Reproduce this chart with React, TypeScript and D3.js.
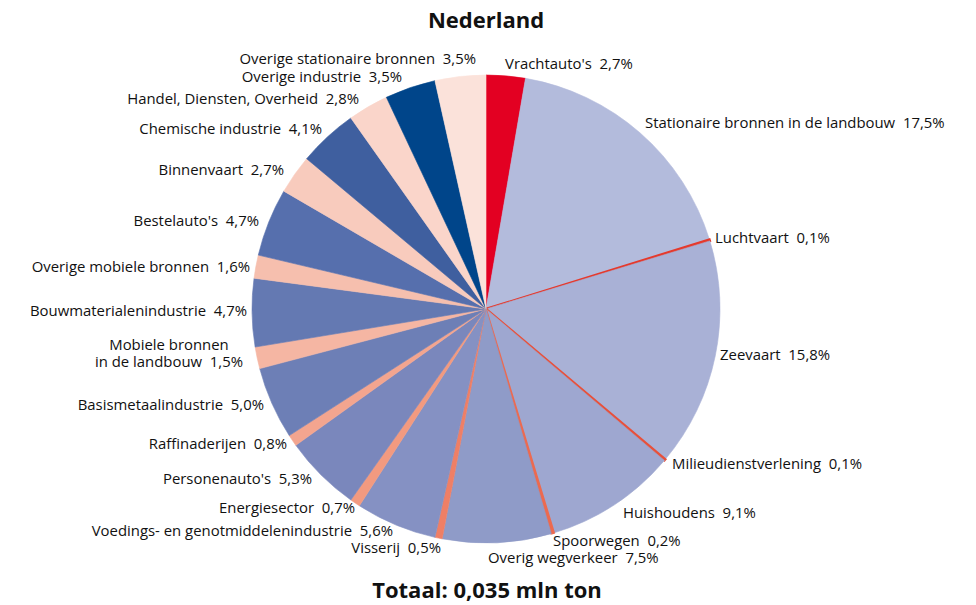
import React from "react";
import * as d3 from "d3";

const categories = [
  "Vrachtauto's",
  "Stationaire bronnen in de landbouw",
  "Luchtvaart",
  "Zeevaart",
  "Milieudienstverlening",
  "Huishoudens",
  "Spoorwegen",
  "Overig wegverkeer",
  "Visserij",
  "Voedings- en genotmiddelenindustrie",
  "Energiesector",
  "Personenauto's",
  "Raffinaderijen",
  "Basismetaalindustrie",
  "Mobiele bronnen\nin de landbouw",
  "Bouwmaterialenindustrie",
  "Overige mobiele bronnen",
  "Bestelauto's",
  "Binnenvaart",
  "Chemische industrie",
  "Handel, Diensten, Overheid",
  "Overige industrie",
  "Overige stationaire bronnen",
];

const values = [
  2.7, 17.5, 0.1, 15.8, 0.1, 9.1, 0.2, 7.5, 0.5, 5.6, 0.7, 5.3, 0.8, 5.0, 1.5,
  4.7, 1.6, 4.7, 2.7, 4.1, 2.8, 3.5, 3.5,
];

const colors = [
  "#e30022", "#b3bbdc", "#e5392c", "#a9b1d6", "#e8503a", "#9ea7d0", "#ec6a50",
  "#8f9bc8", "#ef7f66", "#8591c3", "#f29a80", "#7a87bc", "#f3a58f", "#6d7fb6",
  "#f5b6a3", "#6479b2", "#f6bfae", "#566fad", "#f8cbbd", "#3f5f9f", "#fad5ca",
  "#00458a", "#fbe2da",
];

const title = "Nederland";
const total = "Totaal: 0,035 mln ton";

// label layout: [x, baselineY, anchor]
const labelLayout: [number, number, string][] = [
  [505, 69, "start"],
  [645, 128, "start"],
  [715, 243, "start"],
  [720, 360, "start"],
  [672, 469, "start"],
  [623, 518, "start"],
  [553, 546, "start"],
  [488, 563, "start"],
  [441, 553, "end"],
  [393, 536, "end"],
  [355, 513, "end"],
  [312, 484, "end"],
  [287, 449, "end"],
  [264, 410, "end"],
  [169, 350, "middle"],
  [247, 316, "end"],
  [250, 272, "end"],
  [259, 226, "end"],
  [284, 175, "end"],
  [322, 134, "end"],
  [359, 104, "end"],
  [402, 82, "end"],
  [476, 64, "end"],
];

const fmt = (v: number) => v.toFixed(1).replace(".", ",") + "%";

export default function App() {
  const W = 976;
  const H = 605;
  const cx = 486;
  const cy = 309;
  const r = 234;
  const pie = d3.pie<number>().sort(null).value((d) => d);
  const arcs = pie(values);
  const arc = d3.arc<d3.PieArcDatum<number>>().innerRadius(0).outerRadius(r);
  const font = "'Open Sans', 'Noto Sans', sans-serif";

  return (
    <svg
      width={W}
      height={H}
      style={{ position: "absolute", left: 0, top: 0, background: "#fff" }}
    >
      <g transform={`translate(${cx},${cy})`}>
        {arcs.map((a, i) => (
          <path
            key={i}
            d={arc(a) || ""}
            fill={colors[i]}
            stroke={colors[i]}
            strokeWidth={values[i] < 0.15 ? 2.4 : values[i] < 0.3 ? 1.8 : 0.6}
          />
        ))}
      </g>
      <text
        x={486}
        y={28}
        textAnchor="middle"
        fontFamily={font}
        fontWeight="bold"
        fontSize={22}
        fill="#111"
      >
        {title}
      </text>
      <text
        x={487}
        y={598}
        textAnchor="middle"
        fontFamily={font}
        fontWeight="bold"
        fontSize={22}
        fill="#111"
      >
        {total}
      </text>
      {categories.map((c, i) => {
        const [x, y, anchor] = labelLayout[i];
        const lines = c.split("\n");
        return (
          <text
            key={i}
            x={x}
            y={y}
            textAnchor={anchor as any}
            fontFamily={font}
            fontSize={14.9}
            fill="#111"
            style={{ whiteSpace: "pre" }}
          >
            {lines.map((ln, j) => (
              <tspan key={j} x={x} dy={j === 0 ? 0 : 17}>
                {j === lines.length - 1 ? `${ln}  ${fmt(values[i])}` : ln}
              </tspan>
            ))}
          </text>
        );
      })}
    </svg>
  );
}
